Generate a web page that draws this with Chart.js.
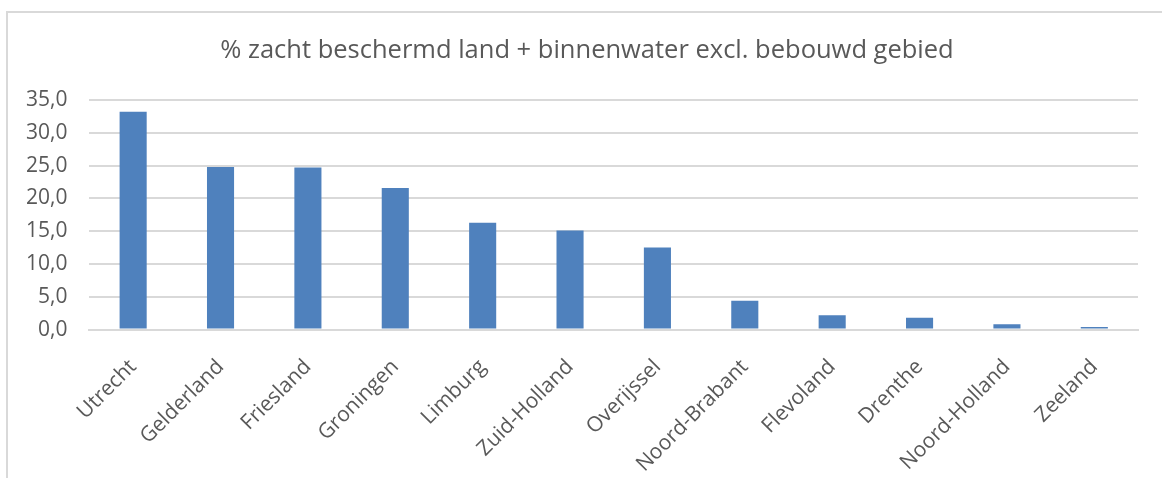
<!DOCTYPE html>
<html>
<head>
<meta charset="utf-8">
<script src="https://cdn.jsdelivr.net/npm/chart.js@4/dist/chart.umd.min.js"></script>
<style>
    html, body { margin: 0; padding: 0; background: #fff; overflow: hidden; }
    #frame {
        position: absolute;
        left: 6px;
        top: 11px;
        width: 1200px;
        height: 520px;
        border-top: 2px solid #d9d9d9;
        border-left: 2px solid #d9d9d9;
    }
    #title {
        position: absolute;
        left: 12px;
        top: 33px;
        width: 1150px;
        line-height: 30px;
        text-align: center;
        font-family: 'Open Sans', sans-serif;
        font-size: 25.5px;
        color: #595959;
        white-space: nowrap;
    }
    #wrap { position: absolute; left: 0; top: 0; width: 1162px; height: 502px; }
</style>
</head>
<body>
<div id="frame"></div>
<div id="wrap"><canvas id="landChart"></canvas></div>
<div id="title">% zacht beschermd land + binnenwater excl. bebouwd gebied</div>
<script>
// Provinces, sorted by share
const provinces = ['Utrecht', 'Gelderland', 'Friesland', 'Groningen', 'Limburg', 'Zuid-Holland',
    'Overijssel', 'Noord-Brabant', 'Flevoland', 'Drenthe', 'Noord-Holland', 'Zeeland'];

// % zacht beschermd land + binnenwater
const shares = [33.2, 24.8, 24.7, 21.6, 16.3, 15.1, 12.5, 4.4, 2.2, 1.8, 0.8, 0.4];

const yTicks = [0, 5, 10, 15, 20, 25, 30, 35];

const textColor = '#595959';
const gridColor = '#d9d9d9';

const ctx = document.getElementById('landChart').getContext('2d');

new Chart(ctx, {
    type: 'bar',
    data: {
        labels: provinces,
        datasets: [{
            data: shares,
            backgroundColor: '#4f81bd',
            borderWidth: 0,
            categoryPercentage: 1,
            barPercentage: 0.31
        }]
    },
    options: {
        responsive: true,
        maintainAspectRatio: false,
        animation: false,
        layout: {
            padding: { left: 4, right: 24, top: 100, bottom: 0 }
        },
        plugins: {
            legend: { display: false },
            tooltip: { enabled: false },
            title: { display: false }
        },
        scales: {
            x: {
                grid: { display: false, drawTicks: false },
                border: { display: true, color: gridColor, width: 2 },
                ticks: {
                    color: textColor,
                    font: { family: 'Open Sans', size: 21 },
                    minRotation: 45,
                    maxRotation: 45,
                    padding: 25,
                    autoSkip: false
                }
            },
            y: {
                min: yTicks[0],
                max: yTicks[yTicks.length - 1],
                afterBuildTicks: (axis) => {
                    axis.ticks = yTicks.map(v => ({ value: v }));
                },
                grid: { color: gridColor, lineWidth: 2, drawTicks: false },
                border: { display: false },
                ticks: {
                    color: textColor,
                    font: { family: 'Open Sans', size: 21 },
                    padding: 22,
                    callback: (v) => v.toFixed(1).replace('.', ',')
                }
            }
        }
    }
});
</script>
</body>
</html>
